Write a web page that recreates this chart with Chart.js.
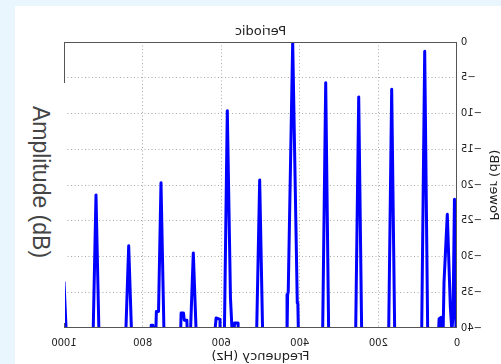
<!DOCTYPE html>
<html>
<head>
<meta charset="utf-8">
<script src="https://cdn.jsdelivr.net/npm/chart.js@4.4.1/dist/chart.umd.min.js"></script>
<style>
  html, body { margin:0; padding:0; }
  body { width:501px; height:364px; background:#eaf6fd; position:relative; overflow:hidden; }
  #panel { position:absolute; left:15px; top:6px; width:486px; height:358px; background:#fff; }
  #plot { position:absolute; left:0; top:0; width:501px; height:364px; transform:scaleX(-1); }
  #amp { position:absolute; left:15px; top:83px; width:50px; height:240px; background:#fff; }
  #amp span { position:absolute; left:25px; top:99px; white-space:nowrap;
              transform:translate(-50%,-50%) rotate(90deg);
              font:23px "Liberation Sans", Arial, sans-serif; color:#444; }
</style>
</head>
<body>
<div id="panel"></div>
<canvas id="plot" width="501" height="364"></canvas>
<div id="amp"><span>Amplitude (dB)</span></div>
<script>
// spectrum (Hz, dB); values below -40 fall outside the plot
const freqHz = [
  0, 3.5, 6.5, 10, 13, 17, 24.7, 33, 35.5, 38.5, 40, 45.5, 47.5, 55,
  74.5, 82.2, 90, 125,
  158.5, 166.2, 174, 210,
  242.5, 250.1, 258, 290,
  326.5, 334.1, 342, 375,
  403.5, 405, 406.5, 418.1, 429.5, 431, 432.5, 465,
  494.5, 502.1, 510, 540,
  555, 557, 566, 568, 571, 576.5, 584.5, 592, 601, 603, 613, 617, 640,
  663.5, 671, 678.5, 686, 687.5, 694, 696, 702, 703.5, 725,
  745.5, 753.2, 759.5, 765, 766.5, 772, 774, 778, 780, 805,
  828, 835.4, 843, 880,
  911, 918.6, 926, 960,
  994, 1000, 1002
];
const powerDb = [
  -48, -37.5, -22.0, -38, -40.5, -37, -24.1, -33.5, -41, -41, -38.5, -38.7, -41, -60,
  -41, -1.3, -41, -60,
  -41, -6.6, -41, -60,
  -41, -7.7, -41, -60,
  -41, -5.7, -41, -60,
  -41, -36.5, -36.3, 0, -35, -35.3, -41, -60,
  -41, -19.3, -41, -60,
  -41, -39.3, -39.3, -41, -42, -35.7, -9.6, -41, -41, -38.8, -38.6, -41, -60,
  -41, -29.5, -41, -41, -38.9, -38.9, -37.9, -37.9, -41, -60,
  -41, -19.7, -37.7, -37.7, -41, -41, -39.6, -39.6, -41, -60,
  -41, -28.5, -41, -60,
  -41, -21.4, -41, -60,
  -41, -33.6, -25
];
const freqTicks = [0, 200, 400, 600, 800, 1000];
const powerTicks = [0, -5, -10, -15, -20, -25, -30, -35, -40];

const points = freqHz.map((f, i) => ({ x: f, y: powerDb[i] }));

const FONT = 'DejaVu Sans';
const gridColor = (lo, hi) => (ctx) =>
  (ctx.tick && (ctx.tick.value === lo || ctx.tick.value === hi)) ? 'rgba(0,0,0,0)' : '#aaaaaa';

const framePlugin = {
  id: 'frame',
  afterDatasetsDraw(chart) {
    const { ctx, chartArea: a } = chart;
    ctx.save();
    ctx.strokeStyle = '#555';
    ctx.lineWidth = 1;
    ctx.strokeRect(a.left + 0.5, a.top + 0.5, a.right - a.left - 1, a.bottom - a.top - 1);
    ctx.restore();
  }
};

new Chart(document.getElementById('plot'), {
  type: 'line',
  data: {
    datasets: [{
      data: points,
      borderColor: '#0000ff',
      borderWidth: 3,
      borderJoinStyle: 'round',
      borderCapStyle: 'round',
      pointRadius: 0,
      tension: 0,
      fill: false,
    }],
  },
  options: {
    responsive: false,
    animation: false,
    devicePixelRatio: 1,
    layout: { padding: { left: 0, right: 64, top: 0, bottom: 0 } },
    plugins: {
      legend: { display: false },
      tooltip: { enabled: false },
      title: {
        display: true,
        text: 'Periodic',
        fullSize: false,
        color: '#222',
        font: { family: FONT, size: 13, weight: 'normal' },
        padding: { top: 24, bottom: 2.4 },
      },
    },
    scales: {
      x: {
        type: 'linear',
        min: 0,
        max: 1000,
        afterBuildTicks: (s) => { s.ticks = freqTicks.map(v => ({ value: v })); },
        afterFit: (s) => { s.height = 36; },
        grid: { color: gridColor(0, 1000), drawTicks: false, lineWidth: 1, borderDash: [1, 2.5] },
        border: { display: false, dash: [1, 2.5] },
        ticks: {
          padding: 9, color: '#222', font: { family: FONT, size: 10 }, maxRotation: 0, autoSkip: false,
          callback: (v) => String(v),
        },
        title: { display: true, text: 'Frequency (Hz)', color: '#222', font: { family: FONT, size: 13 }, padding: 0 },
      },
      y: {
        type: 'linear',
        min: -40,
        max: 0,
        afterBuildTicks: (s) => { s.ticks = powerTicks.map(v => ({ value: v })); },
        afterFit: (s) => { s.width = 44; },
        grid: { color: gridColor(-40, 0), drawTicks: false, lineWidth: 1, borderDash: [1, 2.5] },
        border: { display: false, dash: [1, 2.5] },
        ticks: {
          padding: 4, color: '#222', font: { family: FONT, size: 10 },
          callback: (v) => String(v).replace('-', '\u2212'),
        },
        title: { display: true, text: 'Power (dB)', color: '#222', font: { family: FONT, size: 13 }, padding: 0 },
      },
    },
  },
  plugins: [framePlugin],
});
</script>
</body>
</html>
